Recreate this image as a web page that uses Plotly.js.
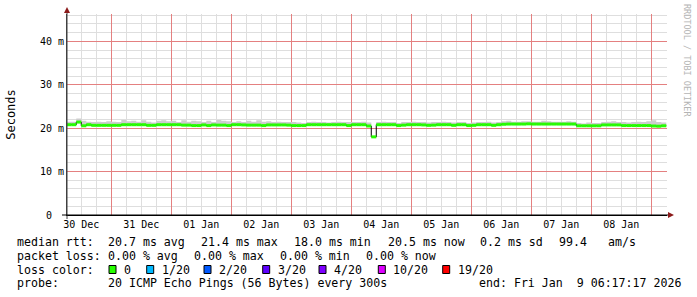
<!DOCTYPE html>
<html><head><meta charset="utf-8">
<script src="https://cdn.plot.ly/plotly-3.0.1.min.js"></script>
<style>html,body{margin:0;padding:0;background:#fff}#chart{width:697px;height:297px}</style>
</head><body><div id="chart"></div>
<script>
// ---- data ----
const startTime = Date.UTC(2025, 11, 30, 6, 0, 0);   // first 2-hour sample
const stepHours = 2;
const rangeStart = Date.UTC(2025, 11, 30, 6, 17, 17);
const rangeEnd = Date.UTC(2026, 0, 9, 6, 17, 17);

// median RTT (ms) per 2-hour step
const median = [
  20.8, 20.8, 21.4, 20.55, 20.8, 20.65, 20.65, 20.65, 20.65, 20.65,
  20.65, 20.8, 20.8, 20.8, 20.8, 20.8, 20.65, 20.65, 20.8, 20.8,
  20.8, 20.8, 20.8, 20.7, 20.7, 20.6, 20.6, 20.75, 20.6, 20.75,
  20.7, 20.7, 20.6, 20.8, 20.8, 20.75, 20.7, 20.7, 20.7, 20.6,
  20.75, 20.75, 20.75, 20.75, 20.7, 20.6, 20.6, 20.6, 20.8, 20.8,
  20.8, 20.8, 20.8, 20.8, 20.8, 20.8, 20.6, 20.8, 20.8, 20.8,
  20.5, 18.0, 20.8, 20.8, 20.8, 20.8, 20.6, 20.7, 20.8, 20.8,
  20.8, 20.75, 20.65, 20.7, 20.8, 20.8, 20.8, 20.65, 20.8, 20.8,
  20.6, 20.65, 20.8, 20.8, 20.8, 20.65, 20.8, 20.9, 20.95, 20.95,
  20.95, 20.95, 21.0, 20.95, 20.95, 20.95, 20.95, 20.95, 20.95, 20.95,
  20.95, 20.95, 20.55, 20.55, 20.55, 20.55, 20.55, 20.75, 20.75, 20.75,
  20.75, 20.6, 20.6, 20.6, 20.6, 20.6, 20.6, 20.5, 20.45, 20.55
];
// upper edge of the smoke (ms)
const smokeHigh = [
  21.5, 21.5, 22.2, 21.7, 21.5, 21.4, 21.5, 21.4, 21.6, 21.5,
  21.4, 21.9, 21.6, 21.7, 21.5, 21.8, 21.5, 21.3, 21.7, 21.8,
  21.6, 21.7, 21.4, 21.8, 21.5, 21.7, 21.6, 21.4, 21.7, 21.4,
  21.9, 21.7, 21.6, 21.4, 21.6, 21.4, 21.7, 21.5, 21.8, 21.5,
  21.6, 21.4, 21.5, 21.4, 21.4, 21.4, 21.3, 21.2, 21.4, 21.5,
  21.4, 21.4, 21.3, 21.4, 21.5, 21.4, 21.4, 21.4, 21.4, 21.5,
  21.3, 18.0, 21.4, 21.5, 21.4, 21.4, 21.2, 21.4, 21.4, 21.5,
  21.4, 21.4, 21.3, 21.4, 21.4, 21.5, 21.4, 21.3, 21.4, 21.4,
  21.2, 21.3, 21.4, 21.4, 21.5, 21.3, 21.4, 21.6, 21.7, 21.5,
  21.5, 21.6, 21.6, 21.5, 21.5, 21.7, 21.6, 21.5, 21.5, 21.5,
  21.6, 21.5, 21.2, 21.1, 21.3, 21.2, 21.2, 21.4, 21.5, 21.6,
  21.4, 21.4, 21.3, 21.4, 21.5, 21.4, 21.6, 21.8, 21.4, 21.3
];

const yTickVals = [0, 10, 20, 30, 40];
const yTickText = ['0\u00a0\u00a0', '10 m', '20 m', '30 m', '40 m'];
const yMinorVals = [2, 4, 6, 8, 12, 14, 16, 18, 22, 24, 26, 28, 32, 34, 36, 38, 42, 44, 46];

const lossColors = ['#26ff00', '#00b8ff', '#0059ff', '#5e00ff', '#7e00ff', '#dd00ff', '#ff0000'];
const lossLabels = ['0', '1/20', '2/20', '3/20', '4/20', '10/20', '19/20'];

const statsRtt = ['20.7 ms avg', '21.4 ms max', '18.0 ms min', '20.5 ms now', '0.2 ms sd', '99.4', 'am/s'];
const statsLoss = ['0.00 % avg', '0.00 % max', '0.00 % min', '0.00 % now'];
const probeText = '20 ICMP Echo Pings (56 Bytes) every 300s';
const endText = 'end: Fri Jan  9 06:17:17 2026';

// ---- layout geometry (pixels) ----
const W = 697, H = 297;
const PL = 67, PR = 667, PT = 14, PB = 215;
const px = x => (x - PL) / (PR - PL);
const py = y => (PB - y) / (PB - PT);
const MONO = 'DejaVu Sans Mono, monospace';
const nb = s => s.replace(/ /g, '\u00a0');

// ---- build traces ----
const stepMs = stepHours * 3600 * 1000;
const times = [];
for (let i = 0; i <= median.length; i++) times.push(startTime + i * stepMs);
const medY = median.concat([median[median.length - 1]]);
const hiY = smokeHigh.concat([smokeHigh[smokeHigh.length - 1]]);

const segX = [], segY = [];
for (let i = 0; i < median.length; i++) {
  segX.push(times[i], times[i + 1], null);
  segY.push(median[i], median[i], null);
}

// minor x grid every 6 h, skipping midnights (major grid)
const xMinorVals = [];
for (let t = Date.UTC(2025, 11, 30, 6); t <= rangeEnd; t += 6 * 3600 * 1000) {
  if (new Date(t).getUTCHours() !== 0) xMinorVals.push(t);
}

const traces = [
  {x: times, y: medY, type: 'scatter', mode: 'lines', line: {width: 0, shape: 'hv'}, hoverinfo: 'skip', showlegend: false},
  {x: times, y: hiY, type: 'scatter', mode: 'lines', line: {width: 0, shape: 'hv'}, fill: 'tonexty', fillcolor: '#cdcdcd', hoverinfo: 'skip', showlegend: false},
  {x: times, y: medY, type: 'scatter', mode: 'lines', line: {width: 1, color: '#000000', shape: 'hv'}, showlegend: false},
  {x: segX, y: segY, type: 'scatter', mode: 'lines', line: {width: 3, color: lossColors[0]}, connectgaps: false, showlegend: false}
];

// ---- annotations ----
const ann = [];
function txt(t, x, y, size) {
  ann.push({text: nb(t), xref: 'paper', yref: 'paper', x: px(x), y: py(y), xanchor: 'left', yanchor: 'middle',
            showarrow: false, borderpad: 0, font: {family: MONO, size: size || 11.6, color: '#000'}});
}
const rttX = [107, 200, 293, 386.7, 479, 558, 607];
txt('median rtt:', 16, 241.5);
statsRtt.forEach((s, i) => txt(s, rttX[i], 241.5));
const lossX = [107, 193, 279.3, 365];
txt('packet loss:', 16, 255.5);
statsLoss.forEach((s, i) => txt(s, lossX[i], 255.5));
txt('loss color:', 16, 269.5);
const lblX = [123, 160.7, 218, 276.7, 333, 392.3, 456.7];
lossLabels.forEach((s, i) => txt(s, lblX[i], 269.5));
txt('probe:', 16, 283);
txt(probeText, 107, 283);
txt(endText, 478.3, 283);

ann.push({text: nb('RRDTOOL / TOBI OETIKER'), xref: 'paper', yref: 'paper', x: px(687), y: py(60), textangle: 90,
          xanchor: 'center', yanchor: 'middle', showarrow: false, borderpad: 0,
          font: {family: MONO, size: 8.5, color: '#b4b4b4'}});

// ---- shapes: axis extensions, arrows, legend boxes ----
const shapes = [];
shapes.push({type: 'line', xref: 'paper', yref: 'paper', x0: px(67), x1: px(67), y0: py(219), y1: py(9), line: {color: '#404040', width: 1}});
shapes.push({type: 'line', xref: 'paper', yref: 'paper', x0: px(62), x1: px(669), y0: py(215), y1: py(215), line: {color: '#000', width: 1}});
shapes.push({type: 'path', xref: 'paper', yref: 'paper', fillcolor: '#8b1a1a', line: {width: 0},
  path: `M ${px(64)} ${py(13)} L ${px(70)} ${py(13)} L ${px(67)} ${py(7)} Z`});
shapes.push({type: 'path', xref: 'paper', yref: 'paper', fillcolor: '#8b1a1a', line: {width: 0},
  path: `M ${px(668)} ${py(212)} L ${px(668)} ${py(218)} L ${px(674)} ${py(215)} Z`});
lblX.forEach((x, i) => {
  shapes.push({type: 'rect', xref: 'paper', yref: 'paper', x0: px(x - 14), x1: px(x - 7), y0: py(265.5), y1: py(273.5),
    fillcolor: lossColors[i], line: {color: '#000', width: 1}});
});

const layout = {
  width: W, height: H,
  margin: {l: PL, r: W - PR, t: PT, b: H - PB, pad: 0},
  paper_bgcolor: '#fff', plot_bgcolor: '#fff',
  showlegend: false,
  xaxis: {
    type: 'date', range: [rangeStart, rangeEnd], fixedrange: true,
    dtick: 86400000, tick0: Date.UTC(2025, 11, 31), tickformat: '%d %b', ticklabelmode: 'period',
    ticks: '', showline: true, linecolor: '#000', linewidth: 1, zeroline: false,
    showgrid: true, gridcolor: '#e48080', gridwidth: 1,
    minor: {tickvals: xMinorVals, showgrid: true, gridcolor: '#dedede', gridwidth: 1, ticks: ''},
    tickfont: {family: MONO, size: 10, color: '#000'}
  },
  yaxis: {
    range: [0, 46.3], fixedrange: true,
    tickvals: yTickVals, ticktext: yTickText,
    ticks: '', showline: true, linecolor: '#404040', linewidth: 1, zeroline: false,
    showgrid: true, gridcolor: '#e48080', gridwidth: 1,
    minor: {tickvals: yMinorVals, showgrid: true, gridcolor: '#dedede', gridwidth: 1, ticks: ''},
    tickfont: {family: MONO, size: 10, color: '#000'},
    title: {text: 'Seconds', font: {family: MONO, size: 12, color: '#000'}, standoff: 21}
  },
  annotations: ann,
  shapes: shapes
};

Plotly.newPlot('chart', traces, layout, {staticPlot: true, displayModeBar: false});
</script>
</body></html>
